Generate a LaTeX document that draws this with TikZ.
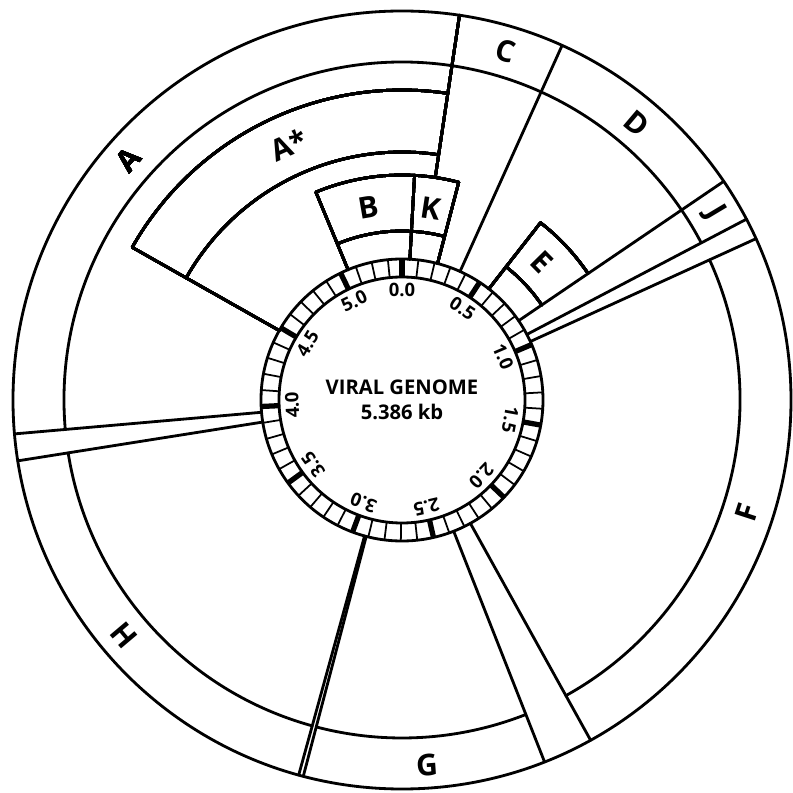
\documentclass[tikz,border=0pt]{standalone}
\usepackage{fontspec}
\setmainfont{Open Sans}
\usetikzlibrary{calc}
% luk genu: kat poczatku, kat konca (zgodnie z ruchem wskazowek, od gory), promien
\newcommand{\genarc}[3]{\draw (90-#1:#3) arc[start angle=90-#1,end angle=90-#2,radius=#3];}
% odcinek promienisty: kat, promien od, promien do
\newcommand{\genline}[3]{\draw (90-#1:#2) -- (90-#1:#3);}

\begin{document}
\begin{tikzpicture}[x=0.02cm,y=0.02cm,line cap=round,line join=round,line width=1.6pt,
 genelabel/.style={font=\fontsize{17}{17}\selectfont\bfseries,inner sep=0pt},
 scalelabel/.style={font=\fontsize{10.5}{10.5}\selectfont\bfseries,inner sep=0pt}]
\useasboundingbox (-402,-393) rectangle (391,400);
% Pierscien genomu z podzialka co 0,1 kb i grubymi kreskami co 0,5 kb.
\draw (0,0) circle (123);
\draw (0,0) circle (141);
\foreach \k in {0,...,53}
 \draw[line width=1pt] ({90-\k*6.684}:123) -- ({90-\k*6.684}:141);
\foreach \k in {0,...,10}
 \draw[line width=3pt,line cap=butt] ({90-\k*33.42}:123) -- ({90-\k*33.42}:141);
\foreach \k/\t in {0/0.0,1/0.5,2/1.0,3/1.5,4/2.0,5/2.5,6/3.0,7/3.5,8/4.0,9/4.5,10/5.0}
 \node[scalelabel,rotate=-\k*33.42] (s\k) at ({90-\k*33.42}:110) {\t};
\node[font=\fontsize{11.5}{14.2}\selectfont\bfseries,align=center] (genome) at (0,0)
 {VIRAL GENOME\\5.386 kb};
% Zewnetrzne pasmo nazw genow A, C, D, J, F, G, H.
\draw (0,0) circle (389);
\genarc{265}{422.3}{338}
\genarc{65.5}{151}{338}
\genarc{158.5}{194.7}{338}
\genarc{195.4}{261}{338}
\foreach \a in {24.3,55.8,62.3,65.5,151,158.5,194.7,195.4,261,265}
 \genline{\a}{141}{389}
\genline{8.5}{225}{389}
% Gen A* zagniezdzony w A.
\genline{299.5}{141}{310}
\genarc{299.5}{368.5}{310}
\genarc{299.5}{368.5}{248}
% Male geny B, K i E.
\genline{337.5}{141}{225}
\genline{363.2}{141}{225}
\genline{14.6}{141}{225}
\genarc{337.5}{374.6}{225}
\genarc{337.5}{374.6}{169}
\genline{38}{141}{225}
\genarc{38}{55.8}{225}
\genarc{38}{55.8}{169}
% Etykiety genow.
\node[genelabel,rotate=48.7] (lA) at (90-311.3:364) {A};
\node[genelabel,rotate=24] (lAs) at (90-336:279) {A*};
\node[genelabel,rotate=9.7] (lB) at (90-350.3:196) {B};
\node[genelabel,rotate=-8.6] (lK) at (90-8.6:194) {K};
\node[genelabel,rotate=-16.5] (lC) at (90-16.5:364) {C};
\node[genelabel,rotate=-40.3] (lD) at (90-40.3:363) {D};
\node[genelabel,rotate=-45.4] (lE) at (90-45.4:196) {E};
\node[genelabel,rotate=-59.1] (lJ) at (90-59.1:364) {J};
\node[genelabel,rotate=72] (lF) at (90-108:363) {F};
\node[genelabel,rotate=3.9] (lG) at (90-176.1:366) {G};
\node[genelabel,rotate=-49.8] (lH) at (90-229.8:364) {H};
\end{tikzpicture}
\end{document}
